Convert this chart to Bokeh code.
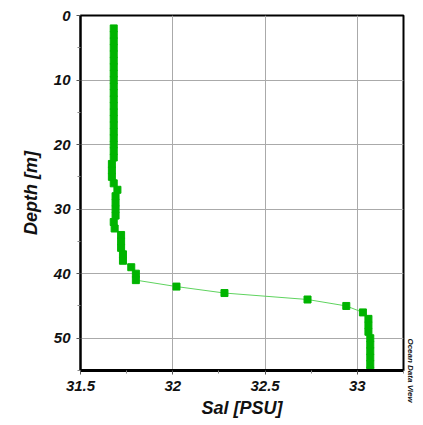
import math
from bokeh.plotting import figure
from bokeh.models import Range1d, FixedTicker, LinearAxis
from bokeh.embed import file_html
from bokeh.resources import INLINE

depth = [2, 3, 4, 5, 6, 7, 8, 9, 10, 11, 12, 13, 14, 15, 16, 17, 18, 19, 20, 21, 22,
         23, 24, 25, 26, 27, 28, 29, 30, 31, 32, 33, 34, 35, 36, 37, 38, 39, 40, 41,
         42, 43, 44, 45, 46, 47, 48, 49, 50, 51, 52, 53, 54, 55]
sal = [31.68, 31.68, 31.68, 31.68, 31.68, 31.68, 31.68, 31.68, 31.68, 31.68, 31.68,
       31.68, 31.68, 31.68, 31.68, 31.68, 31.68, 31.68, 31.68, 31.68, 31.68,
       31.67, 31.67, 31.67, 31.68, 31.70, 31.69, 31.69, 31.69, 31.69, 31.68, 31.685,
       31.72, 31.72, 31.72, 31.73, 31.73, 31.775, 31.80, 31.80,
       32.02, 32.28, 32.73, 32.94, 33.03, 33.06, 33.06, 33.06, 33.07, 33.07, 33.07,
       33.07, 33.07, 33.07]

x_ticks = [31.5, 32.0, 32.5, 33.0]
x_tick_labels = {31.5: "31.5", 32.0: "32", 32.5: "32.5", 33.0: "33"}
y_ticks = [0, 10, 20, 30, 40, 50]

FONT = "Liberation Sans"

p = figure(width=423, height=425, output_backend="svg", toolbar_location=None,
           x_range=Range1d(31.5, 33.25), y_range=Range1d(55, 0),
           min_border_left=80, min_border_right=20, min_border_top=15,
           min_border_bottom=55)

p.line(sal, depth, line_color="#5fd35f", line_width=1)
p.scatter(sal, depth, marker="square", size=7, fill_color="#00b400",
          line_color="#00b400")

p.outline_line_color = "black"
p.outline_line_width = 2

for ax in (p.xaxis[0], p.yaxis[0]):
    ax.axis_line_color = "black"
    ax.axis_line_width = 2
    ax.major_tick_out = 4
    ax.major_tick_in = 0
    ax.minor_tick_out = 3
    ax.minor_tick_in = 0
    ax.major_tick_line_color = "#555555"
    ax.minor_tick_line_color = "#888888"
    ax.major_label_text_font = FONT
    ax.major_label_text_font_style = "bold italic"
    ax.major_label_text_font_size = "15px"
    ax.major_label_text_color = "#111111"
    ax.axis_label_text_font = FONT
    ax.axis_label_text_font_style = "bold italic"
    ax.axis_label_text_font_size = "18px"
    ax.axis_label_text_color = "#111111"

p.xaxis[0].axis_line_width = 3
p.xaxis.ticker = FixedTicker(ticks=x_ticks, minor_ticks=[31.75, 32.25, 32.75, 33.25])
p.xaxis.major_label_overrides = x_tick_labels
p.xaxis.axis_label = "Sal [PSU]"
p.xaxis.major_label_standoff = 6
p.xaxis.axis_label_standoff = 4

p.yaxis.ticker = FixedTicker(ticks=y_ticks, minor_ticks=[5, 15, 25, 35, 45, 55])
p.yaxis.axis_label = "Depth [m]"
p.yaxis.major_label_standoff = 6
p.yaxis.axis_label_standoff = 10

p.xgrid.ticker = FixedTicker(ticks=x_ticks)
p.ygrid.ticker = FixedTicker(ticks=y_ticks)
p.grid.grid_line_color = "#aaaaaa"
p.grid.grid_line_width = 1
p.grid.grid_line_alpha = 1.0

odv = LinearAxis(ticker=FixedTicker(ticks=[]), axis_line_color=None,
                 major_tick_line_color=None, minor_tick_line_color=None,
                 major_label_text_font_size="0px",
                 axis_label="Ocean Data View", axis_label_standoff=2,
                 axis_label_orientation="parallel", axis_label_align="end",
                 axis_label_text_font=FONT, axis_label_text_font_style="bold italic",
                 axis_label_text_font_size="8px", axis_label_text_color="#111111")
p.add_layout(odv, "right")

p.background_fill_color = "white"
p.border_fill_color = "white"

open("out.html", "w").write(file_html(p, INLINE))
